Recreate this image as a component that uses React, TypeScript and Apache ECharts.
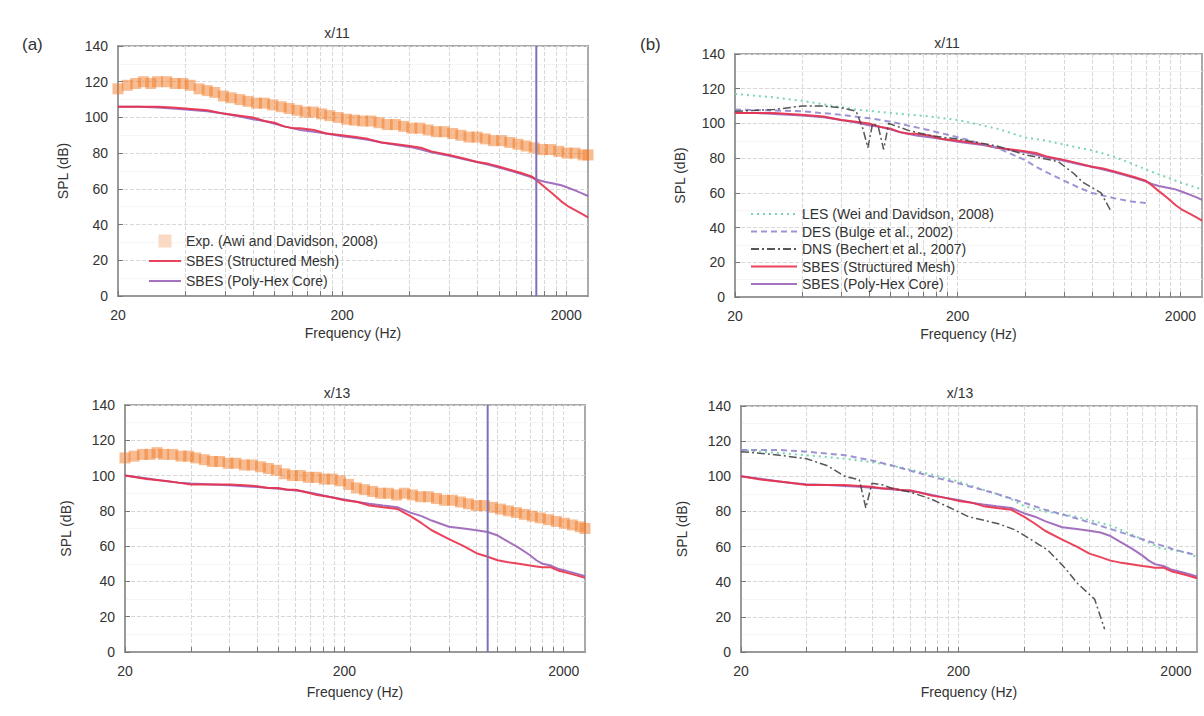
import React, { useEffect, useRef } from "react";
import * as echarts from "echarts";

// ---------- data ----------
const X_TICKS = [20, 40, 60, 80, 100, 120, 140, 160, 180, 200, 400, 600, 800, 1000, 1200, 1400, 1600, 1800, 2000];
const X_LABELS = [20, 200, 2000];

const F_EXP = [20,22,24,26,28,30,33,36,39,42,46,50,54,59,64,70,76,83,90,98,107,116,126,137,149,162,176,192,209,227,247,269,292,318,346,376,409,445,484,526,572,622,677,736,800,870,946,1029,1119,1217,1323,1439,1565,1702,1851,2013,2189,2380,2500];
const EXP_11 = [116,118,119,120,119,120,120,119,119,118,116,115,114,112,111,110,109,108,108,107,106,105,104,103,103,102,101,100,99,98.5,98,98,97,96,96,95,94,94,93,92,92,91,90,89,89,88,87,87,86,85,84,83,82,82,81,80,80,79,79];
const EXP_13 = [110,111,112,112,113,112,112,111,111,110,109,108,108,107,107,106,106,105,104,103,101,100,100,99,99,98,98,97,95,93,92,91,90,90,89,90,89,88,88,87,86,86,85,84,83,83,82,81,80,79,78,77,76,75,74,73,72,71,70];

const F_SIM = [20,25,30,35,40,50,60,70,80,90,100,110,120,130,150,170,200,230,260,300,350,400,450,500,600,700,800,900,1000,1100,1250,1400,1500,1600,1750,1900,2050,2200,2350,2500];
const RED_11 = [106,106,106,105.5,105,104,102,101,100,98,97,95,94,94,93,91,90,89,88,86,85,84,83,81,79,77,75,74,72.5,71,69,67,64,61,57,53,50,48,46,44];
const POLY_11 = [106,106,105.5,105,104.5,103.5,102,100.5,99,98,96.5,95,94,93,92,91,89.5,88.5,87.5,86,84.5,83.5,82,80.5,78.5,76.5,75,73.5,72,70.5,68.5,66.5,65,64,63,62,60.5,59,57.5,56];
const RED_13 = [100,98,97,96,95,95,95,94.5,94,93,93,92,92,91,89,88,86,85,83,82,81,77,73,69,64,60,56,54,52,51,50,49,48.5,48,48,46,45,44,43,42];
const POLY_13 = [100,98.5,97,96,95.5,95,94.5,94,93.5,93,92.5,92,91.5,91,89.5,88,86.5,85,84,83,82,79,77,74.5,71,70,69,68,66,63,59,55,52,50,49,47,46,45,44,43];

const F_LES_11 = [20,30,40,50,70,100,150,200,300,400,500,700,800,1000,1200,1500,2000,2500];
const LES_11 = [117,115,113,111,108,106,104,102,97,92,90,86,84.5,81,77,72,66,62];
const F_DES_11 = [20,40,60,80,100,150,200,300,400,450,500,600,700,800,1000,1200,1450];
const DES_11 = [108,107,105,103,101,96,92,86,79,75,72,67,63,60,57,55,54];
const F_DNS_11 = [20,30,40,50,60,70,75,79,83,88,93,98,120,150,200,300,400,566,666,730,880,970];
const DNS_11 = [107,108,110,110,109,107,97,86,100,98,85,100,96,93,91,87,82,78,71,66,60,50];

const F_LES_13 = [20,40,60,80,100,150,200,250,300,350,400,500,700,1000,1300,1700,2000,2300,2500];
const LES_13 = [115,112,110,108,106,101,97,93,90,87,83,80,77,72,66,59,58,56,54];
const F_DES_13 = [20,30,40,60,80,100,130,160,200,300,400,500,700,1000,1500,2000,2500];
const DES_13 = [115,115,114,112,109,106,102,99,96,90,85,81,76,70,63,58,55];
const F_DNS_13 = [20,25,30,40,50,60,70,75,80,90,100,120,150,180,222,305,364,431,515,616,706,846,940];
const DNS_13 = [114,113,112,110,106,100,98,82,96,95,93,91,87,82.5,77,73,69.5,64,58,48,39,30,13];

const CUTOFF_11 = 1470;
const CUTOFF_13 = 900;

const N_EXP = "Exp. (Awi and Davidson, 2008)";
const N_LES = "LES (Wei and Davidson, 2008)";
const N_DES = "DES (Bulge et al., 2002)";
const N_DNS = "DNS (Bechert et al., 2007)";
const N_STR = "SBES (Structured Mesh)";
const N_POLY = "SBES (Poly-Hex Core)";

const TITLES = ["x/11", "x/13", "x/11", "x/13"];

// ---------- styling ----------
const FONT = "Liberation Sans, Arial, sans-serif";
const C_EXP = "rgba(240,120,34,0.62)";
const C_EXP_LEGEND = "#f9d0b6";
const C_RED = "#e8304a";
const C_POLY = "#9a62b8";
const C_LES = "#6fd0a8";
const C_DES = "#9388cf";
const C_DNS = "#444444";
const C_VLINE = "#7d72b8";

const zip = (xs: number[], ys: number[]) => xs.map((x, i) => [x, ys[i]]);

const GRIDS = [
  { left: 118, top: 46, width: 470, height: 250 },
  { left: 125, top: 405, width: 460, height: 247 },
  { left: 735, top: 54, width: 467, height: 243 },
  { left: 741, top: 406, width: 456, height: 246 },
];

export default function App() {
  const ref = useRef<HTMLDivElement>(null);
  useEffect(() => {
    document.body.style.margin = "0";
    const chart = echarts.init(ref.current!, undefined, { renderer: "svg" });

    const xAxes = GRIDS.map((g, i) => ({
      type: "log",
      logBase: 10,
      gridIndex: i,
      min: 20,
      max: 2500,
      name: "Frequency (Hz)",
      nameLocation: "middle",
      nameGap: i % 2 === 0 ? 30 : 33,
      nameTextStyle: { fontSize: 14, color: "#333", fontFamily: FONT },
      axisLine: { show: true, lineStyle: { color: "#999", width: 2 } },
      axisTick: { show: true, inside: true, length: 5, customValues: X_TICKS, lineStyle: { color: "#777" } },
      axisLabel: {
        customValues: X_LABELS,
        fontSize: 14,
        color: "#333",
        fontFamily: FONT,
        margin: 12,
        formatter: (v: number) => String(Math.round(v)),
      },
      splitLine: { show: true, lineStyle: { color: "#d8d8d8", type: "dashed", width: 1 } },
    }));

    const yAxes = GRIDS.map((g, i) => ({
      type: "value",
      gridIndex: i,
      min: 0,
      max: 140,
      interval: 20,
      name: "SPL (dB)",
      nameLocation: "middle",
      nameGap: i % 2 === 0 ? 48 : 52,
      nameRotate: 90,
      nameTextStyle: { fontSize: 14, color: "#333", fontFamily: FONT },
      axisLine: { show: true, lineStyle: { color: "#999", width: 2 } },
      axisTick: { show: true, inside: true, length: 5, lineStyle: { color: "#777" } },
      minorTick: { show: false, splitNumber: 2 },
      minorSplitLine: { show: true, lineStyle: { color: "#ececec", type: "dotted" } },
      axisLabel: { fontSize: 14, color: "#333", fontFamily: FONT, margin: 10 },
      splitLine: { show: true, lineStyle: { color: "#d8d8d8", type: "dashed" } },
    }));

    const line = (name: string, idx: number, data: number[][], color: string, type: any, width = 2, z = 3) => ({
      name,
      type: "line",
      xAxisIndex: idx,
      yAxisIndex: idx,
      data,
      symbol: "none",
      z,
      lineStyle: { color, width, type, opacity: 0.9 },
      itemStyle: { color },
    });
    const exp = (idx: number, ys: number[]) => ({
      name: N_EXP,
      type: "scatter",
      xAxisIndex: idx,
      yAxisIndex: idx,
      data: zip(F_EXP, ys),
      symbol: "rect",
      symbolSize: 11,
      itemStyle: { color: C_EXP },
      z: 2,
    });
    const vline = (idx: number, f: number) => ({
      name: "cutoff",
      type: "line",
      xAxisIndex: idx,
      yAxisIndex: idx,
      data: [[f, 0], [f, 140]],
      symbol: "none",
      lineStyle: { color: C_VLINE, width: 2 },
      z: 4,
    });

    const series: any[] = [
      exp(0, EXP_11),
      line(N_POLY, 0, zip(F_SIM, POLY_11), C_POLY, "solid"),
      line(N_STR, 0, zip(F_SIM, RED_11), C_RED, "solid"),
      vline(0, CUTOFF_11),
      exp(1, EXP_13),
      line(N_POLY, 1, zip(F_SIM, POLY_13), C_POLY, "solid"),
      line(N_STR, 1, zip(F_SIM, RED_13), C_RED, "solid"),
      vline(1, CUTOFF_13),
      line(N_POLY, 2, zip(F_SIM, POLY_11), C_POLY, "solid"),
      line(N_STR, 2, zip(F_SIM, RED_11), C_RED, "solid"),
      line(N_LES, 2, zip(F_LES_11, LES_11), C_LES, [2, 4]),
      line(N_DES, 2, zip(F_DES_11, DES_11), C_DES, [6, 4]),
      line(N_DNS, 2, zip(F_DNS_11, DNS_11), C_DNS, [8, 3, 2, 3], 1.5, 5),
      line(N_POLY, 3, zip(F_SIM, POLY_13), C_POLY, "solid"),
      line(N_STR, 3, zip(F_SIM, RED_13), C_RED, "solid"),
      line(N_LES, 3, zip(F_LES_13, LES_13), C_LES, [2, 4]),
      line(N_DES, 3, zip(F_DES_13, DES_13), C_DES, [6, 4]),
      line(N_DNS, 3, zip(F_DNS_13, DNS_13), C_DNS, [8, 3, 2, 3], 1.5, 5),
    ];

    const titleTexts = [
      { x: 337, y: 33 },
      { x: 337, y: 393 },
      { x: 947, y: 43 },
      { x: 960, y: 393 },
    ].map((p, i) => ({
      type: "text",
      x: p.x,
      y: p.y,
      style: { text: TITLES[i], fontSize: 14, fill: "#333", fontFamily: FONT, align: "center", verticalAlign: "middle" },
    }));

    const noSym = (n: string) => ({ name: n, itemStyle: { opacity: 0 } });

    chart.setOption({
      animation: false,
      backgroundColor: "#fff",
      grid: GRIDS.map((g) => ({ ...g, show: true, borderColor: "#aaa", borderWidth: 2, containLabel: false })),
      xAxis: xAxes,
      yAxis: yAxes,
      legend: [
        {
          left: 143,
          top: 229,
          orient: "vertical",
          itemGap: 6,
          itemWidth: 32,
          itemHeight: 13,
          selectedMode: false,
          textStyle: { fontSize: 14, color: "#333", fontFamily: FONT },
          data: [
            { name: N_EXP, icon: "path://M0,0L10,0L10,10L0,10Z", itemStyle: { color: C_EXP_LEGEND } },
            noSym(N_STR),
            noSym(N_POLY),
          ],
        },
        {
          left: 745,
          top: 202,
          orient: "vertical",
          itemGap: 3.5,
          itemWidth: 46,
          itemHeight: 14,
          selectedMode: false,
          textStyle: { fontSize: 14, color: "#333", fontFamily: FONT },
          data: [noSym(N_LES), noSym(N_DES), noSym(N_DNS), noSym(N_STR), noSym(N_POLY)],
        },
      ],
      graphic: [
        ...titleTexts,
        { type: "text", x: 22, y: 36, style: { text: "(a)", fontSize: 17, fill: "#333", fontFamily: FONT } },
        { type: "text", x: 640, y: 36, style: { text: "(b)", fontSize: 17, fill: "#333", fontFamily: FONT } },
      ],
      series,
    });
    return () => chart.dispose();
  }, []);
  return <div ref={ref} style={{ width: 1204, height: 716 }} />;
}
